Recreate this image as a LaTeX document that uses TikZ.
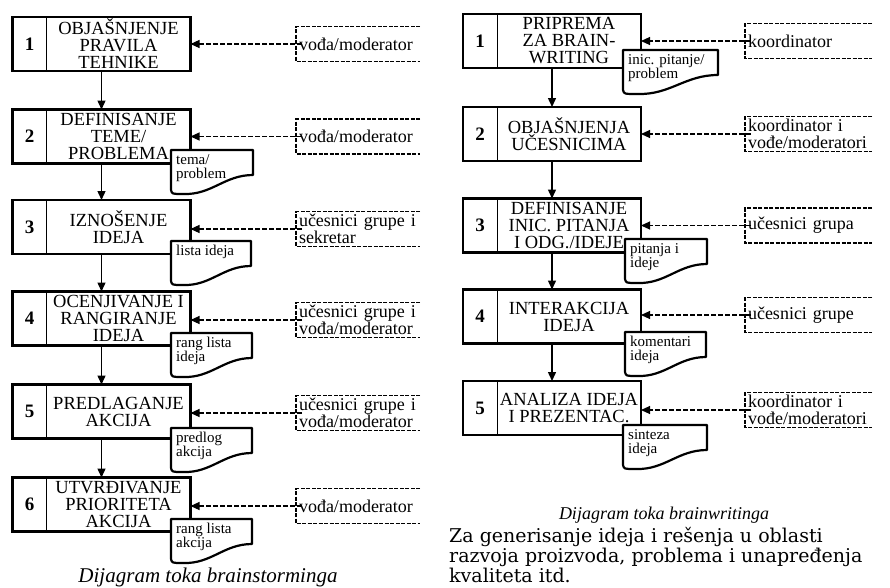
\documentclass[tikz,border=0pt]{standalone}
\usepackage{fontspec}
\setmainfont{Liberation Serif}
\newfontfamily\notefont{DejaVu Serif}
\usetikzlibrary{arrows.meta,positioning}

% one stage of the flow: name, centre, number, text
\newcommand{\stage}[4]{%
  \node[stagebox] (#1) at #2 {};
  \node[numcell] (#1n) at ([xshift=17pt]#1.west) {#3};
  \node[stagetxt] (#1t) at ([xshift=17pt]#1.center) {#4};
  \draw[divider] ([xshift=34pt]#1.north west) -- ([xshift=34pt]#1.south west);}

% document symbol: name, x, y (top left), width, text
\newcommand{\docnote}[5]{%
  \filldraw[docline] (#2,#3) -- ({#2+#4},#3) -- ({#2+#4},{#3+25})
    .. controls ({#2+0.65*#4},{#3+25}) and ({#2+0.5*#4},{#3+45}) .. ({#2+0.15*#4},{#3+44})
    .. controls ({#2+1},{#3+44}) .. (#2,{#3+40}) -- cycle;
  \node[doctxt] (#1) at ({#2+4},{#3+3}) {#5};}

% role box, open on the right: name, west point, text width, text
\newcommand{\rolebox}[4]{%
  \node[role, text width=#3] (#1) at #2 {#4};
  \draw[roleline] (#1.north east) -- ([xshift=-3pt]#1.north west)
    -- ([xshift=-3pt]#1.south west) -- (#1.south east);}

\begin{document}
\begin{tikzpicture}[x=1pt, y=-1pt,
  stagebox/.style = {draw, line width=2.4pt, outer sep=0pt, minimum width=178pt, minimum height=54pt},
  numcell/.style  = {inner sep=0pt, font=\fontsize{19}{19}\selectfont\bfseries},
  stagetxt/.style = {inner sep=0pt, align=center, font=\fontsize{18.5}{17}\selectfont},
  divider/.style  = {line width=1pt},
  docline/.style  = {line width=2.2pt, fill=white, line join=round},
  doctxt/.style   = {anchor=north west, inner sep=1pt, align=left, font=\fontsize{15}{14}\selectfont},
  role/.style     = {anchor=west, outer sep=0pt, minimum height=35pt, inner sep=0pt,
    align=left, font=\fontsize{18}{17}\selectfont},
  roleline/.style = {line width=1.1pt, dash pattern=on 4pt off 1.5pt},
  flow/.style     = {-{Triangle[length=9pt,width=8pt]}, line width=1.4pt},
  dflow/.style    = {-{Triangle[length=9pt,width=8pt]}, line width=1.1pt, dash pattern=on 5pt off 2pt,
    shorten <=-3pt},
  caption/.style  = {inner sep=0pt, font=\itshape},
]
\useasboundingbox (0,0) rectangle (890,587);

% brainstorming
\stage{a1}{(101.5,44)}{1}{OBJAŠNJENJE\\PRAVILA\\TEHNIKE}
\stage{a2}{(101.5,136.5)}{2}{DEFINISANJE\\TEME/\\PROBLEMA}
\stage{a3}{(101.5,227)}{3}{IZNOŠENJE\\IDEJA}
\stage{a4}{(101.5,318.5)}{4}{OCENJIVANJE I\\RANGIRANJE\\IDEJA}
\stage{a5}{(101.5,411.5)}{5}{PREDLAGANJE\\AKCIJA}
\stage{a6}{(101.5,504.5)}{6}{UTVRĐIVANJE\\PRIORITETA\\AKCIJA}

\docnote{d2}{171}{150}{82}{tema/\\problem}
\docnote{d3}{171}{241}{80}{lista ideja}
\docnote{d4}{171}{333}{81}{rang lista\\ideja}
\docnote{d5}{171}{428}{81}{predlog\\akcija}
\docnote{d6}{171}{519}{81}{rang lista\\akcija}

\rolebox{r1}{(299,44)}{121pt}{vođa/moderator}
\rolebox{r2}{(299,136.5)}{121pt}{vođa/moderator}
\rolebox{r3}{(299,229)}{121pt}{učesnici grupe i\\sekretar}
\rolebox{r4}{(299,320)}{121pt}{učesnici grupe i\\vođa/moderator}
\rolebox{r5}{(299,413)}{121pt}{učesnici grupe i\\vođa/moderator}
\rolebox{r6}{(299,506)}{121pt}{vođa/moderator}

\draw[flow] (a1.south) -- (a2.north);
\draw[flow] (a2.south) -- (a3.north);
\draw[flow] (a3.south) -- (a4.north);
\draw[flow] (a4.south) -- (a5.north);
\draw[flow] (a5.south) -- (a6.north);
\draw[dflow] (r1.west) -- (r1.west -| a1.east);
\draw[dflow] (r2.west) -- (r2.west -| a2.east);
\draw[dflow] (r3.west) -- (r3.west -| a3.east);
\draw[dflow] (r4.west) -- (r4.west -| a4.east);
\draw[dflow] (r5.west) -- (r5.west -| a5.east);
\draw[dflow] (r6.west) -- (r6.west -| a6.east);

\node[caption, font=\itshape\fontsize{21}{21}\selectfont] (capa) at (208,577) {Dijagram toka brainstorminga};

% brainwriting
\stage{b1}{(552,41)}{1}{PRIPREMA\\ZA BRAIN-\\WRITING}
\stage{b2}{(552,134)}{2}{OBJAŠNJENJA\\UČESNICIMA}
\stage{b3}{(552,225.5)}{3}{DEFINISANJE\\INIC. PITANJA\\I ODG./IDEJE}
\stage{b4}{(552,316.5)}{4}{INTERAKCIJA\\IDEJA}
\stage{b5}{(552,408)}{5}{ANALIZA IDEJA\\I PREZENTAC.}

\docnote{e1}{623}{50}{95}{inic. pitanje/\\problem}
\docnote{e3}{625}{239}{82}{pitanja i\\ideje}
\docnote{e4}{625}{332}{81}{komentari\\ideja}
\docnote{e5}{623}{425}{84}{sinteza\\ideja}

\rolebox{q1}{(748,41)}{124pt}{koordinator}
\rolebox{q2}{(748,134)}{124pt}{koordinator i\\vođe/moderatori}
\rolebox{q3}{(748,225.5)}{124pt}{učesnici grupa}
\rolebox{q4}{(748,315)}{124pt}{učesnici grupe}
\rolebox{q5}{(748,410)}{124pt}{koordinator i\\vođe/moderatori}

\draw[flow] (b1.south) -- (b2.north);
\draw[flow] (b2.south) -- (b3.north);
\draw[flow] (b3.south) -- (b4.north);
\draw[flow] (b4.south) -- (b5.north);
\draw[dflow] (q1.west) -- (q1.west -| b1.east);
\draw[dflow] (q2.west) -- (q2.west -| b2.east);
\draw[dflow] (q3.west) -- (q3.west -| b3.east);
\draw[dflow] (q4.west) -- (q4.west -| b4.east);
\draw[dflow] (q5.west) -- (q5.west -| b5.east);

\node[caption, font=\itshape\fontsize{18}{18}\selectfont] (capb) at (664,515) {Dijagram toka brainwritinga};
\node[anchor=north west, align=left, inner sep=0pt, font=\notefont\fontsize{19}{20}\selectfont] (note)
  at (449,527) {Za generisanje ideja i rešenja u oblasti\\razvoja proizvoda, problema i unapređenja\\kvaliteta itd.};
\end{tikzpicture}
\end{document}
